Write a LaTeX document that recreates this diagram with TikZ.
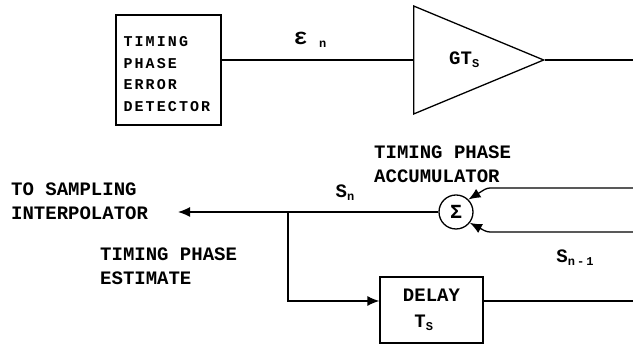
\documentclass[tikz,border=0pt]{standalone}
\usepackage{fontspec}
\usetikzlibrary{arrows.meta,positioning,shapes.geometric}
\setmainfont{Liberation Mono}
\newfontfamily\boxfont[LetterSpace=14]{Liberation Mono}
\newcommand\lowsub[1]{\raisebox{-3pt}{\fontsize{12}{12}\selectfont #1}}
\tikzset{
  block/.style={rectangle,draw,line width=1.3pt,align=left,inner sep=0pt},
  amp/.style={isosceles triangle,isosceles triangle stretches,draw,line width=1.3pt,inner sep=0pt,minimum width=108pt,minimum height=130pt},
  sumnode/.style={circle,draw,line width=1.3pt,inner sep=0pt,minimum size=34pt,font=\fontsize{20}{20}\selectfont\bfseries},
  arrow/.style={-{Latex[length=12pt,width=10pt]},line width=1.3pt},
  wire/.style={line width=1.3pt},
  caption/.style={align=left,inner sep=0pt,font=\fontsize{19}{24}\selectfont\bfseries},
  sig/.style={inner sep=0pt,font=\fontsize{19}{19}\selectfont\bfseries}
}
\begin{document}
\begin{tikzpicture}[x=1pt,y=1pt]
    \useasboundingbox (0,0) rectangle (633,345);
    % upper branch
    \node[block,minimum width=105pt,minimum height=110pt] (ted) at (168.5,275) {};
    \node[caption,anchor=north west,font=\boxfont\fontsize{15}{21.5}\selectfont\bfseries] (tedtxt) at ([xshift=8pt,yshift=-22pt]ted.north west) {TIMING\\PHASE\\ERROR\\DETECTOR};
    \node[amp,anchor=west] (gain) at (413,285) {};
    \node[sig,right=36pt of gain.west] (gainlbl) {GT\lowsub{S}};
    \node[sig] (eps) at (310,305) {{\fontsize{23}{23}\selectfont ε}\ \lowsub{n}};
    \coordinate (gainout) at (633,285);
    \draw[wire] (gain.west -| ted.east) -- (gain.west);
    \draw[wire] (gain.apex) -- (gainout);

    % accumulator
    \node[sumnode] (sum) at (456,133) {Σ};
    \node[caption,anchor=west] (acc) at (374,181) {TIMING PHASE\\ACCUMULATOR};
    \coordinate (fbtop) at (633,157);
    \coordinate (fbbot) at (633,113);
    \draw[arrow,rounded corners=3pt] (fbtop) -- (487,157) -- (sum.45);
    \draw[arrow,rounded corners=3pt] (fbbot) -- (487,113) -- (sum.-38);
    \node[sig] (sn) at (345,152) {S\lowsub{n}};
    \node[sig] (snm) at (575,87) {S\lowsub{n\,-\,1}};

    % estimate output and delay
    \coordinate (tointerp) at (178,133);
    \coordinate (split) at (288,133);
    \node[caption,anchor=west] (interp) at (11,143.5) {TO SAMPLING\\INTERPOLATOR};
    \node[caption,anchor=west] (est) at (100,78.5) {TIMING PHASE\\ESTIMATE};
    \node[block,minimum width=103pt,minimum height=66pt,font=\fontsize{19}{26}\selectfont\bfseries] (delay) at (431.5,35) {DELAY\\~T\lowsub{S}};
    \coordinate (delayout) at (633,44);
    \draw[arrow] (sum.west) -- (tointerp);
    \draw[arrow] (split) |- ([yshift=9pt]delay.west);
    \draw[wire] ([yshift=9pt]delay.east) -- (delayout);
\end{tikzpicture}
\end{document}
